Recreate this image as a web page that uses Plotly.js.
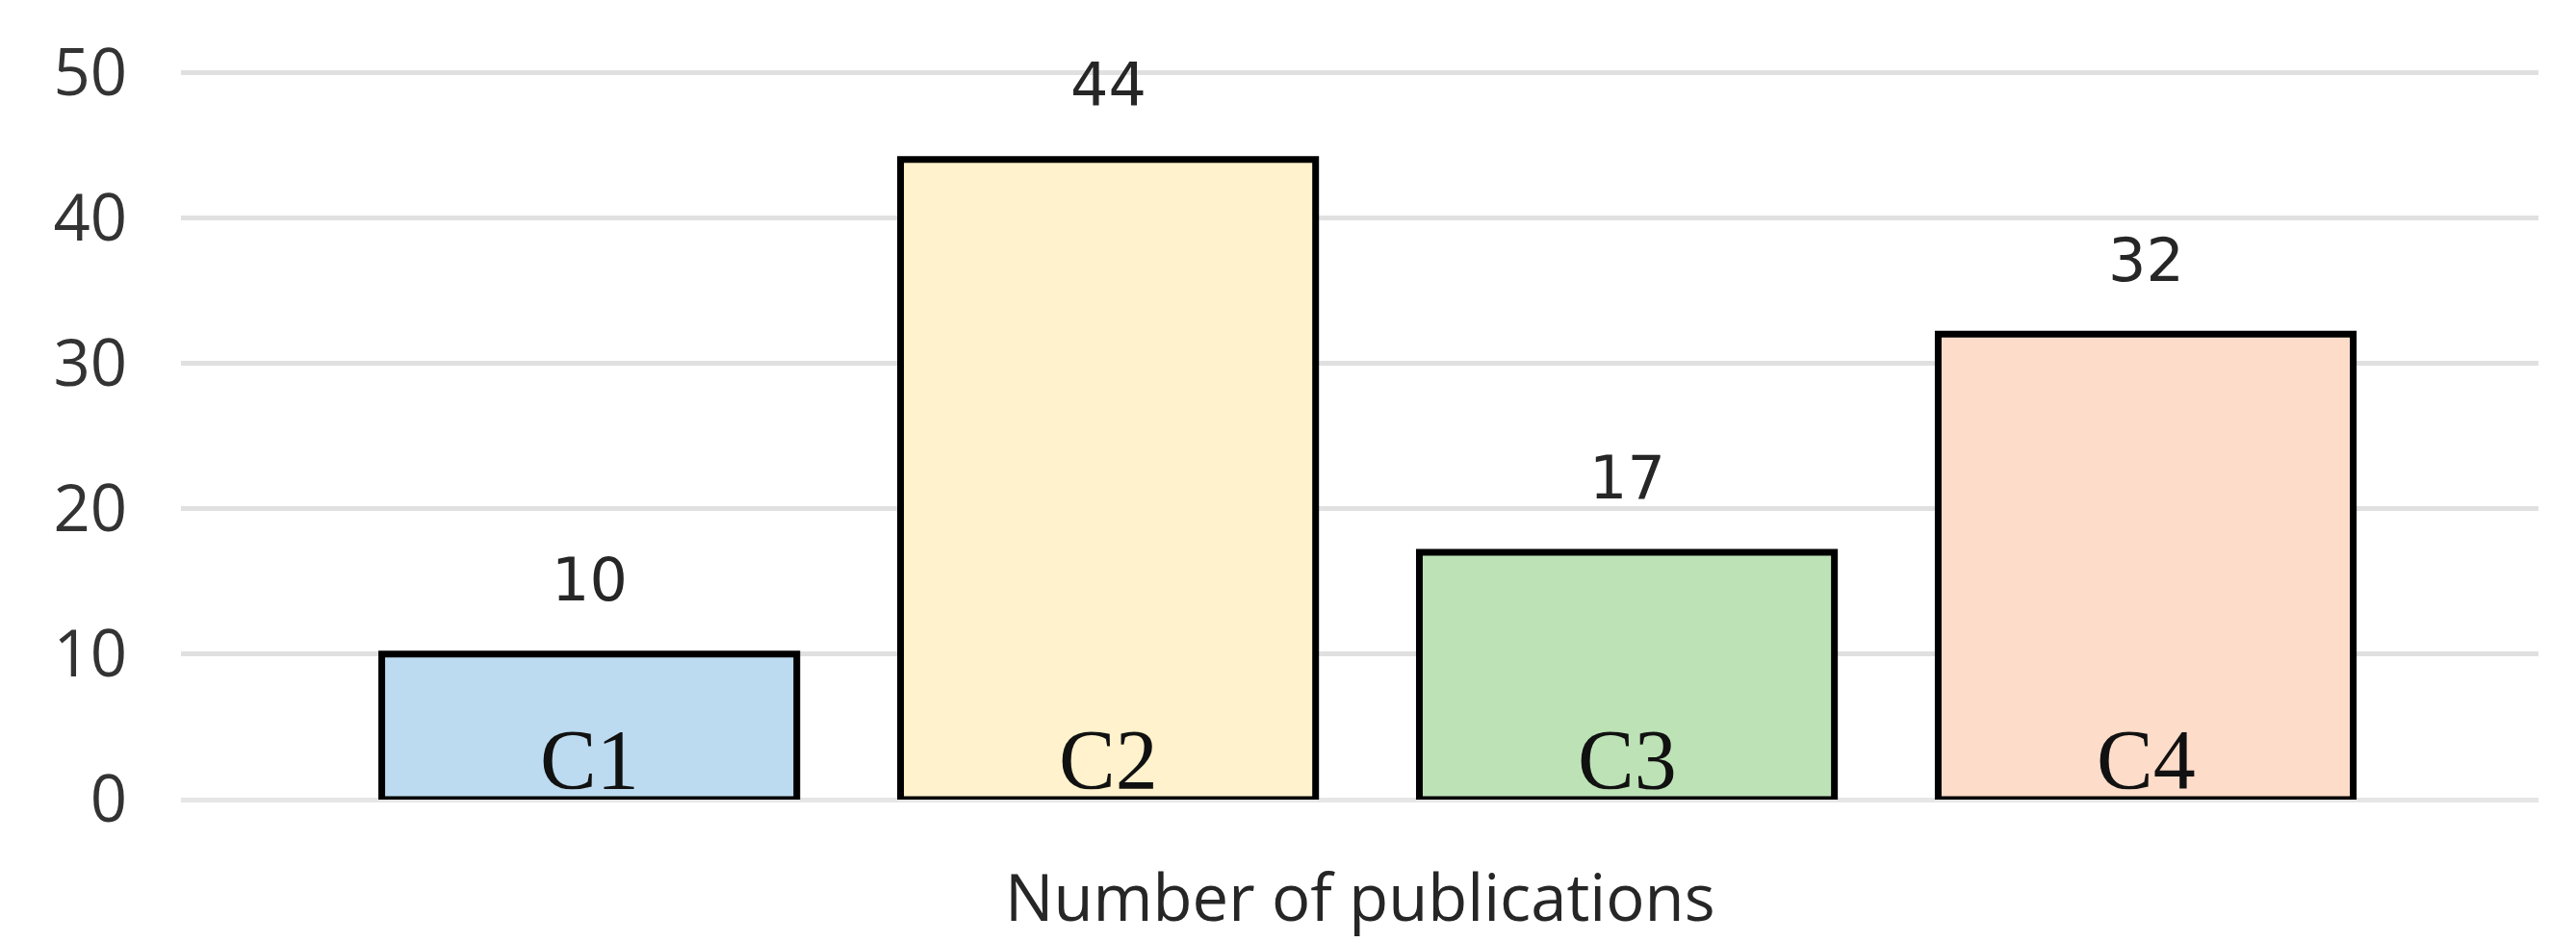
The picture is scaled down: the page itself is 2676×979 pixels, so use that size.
<!DOCTYPE html>
<html>
<head>
<meta charset="utf-8">
<script src="https://cdn.plot.ly/plotly-3.0.1.min.js"></script>
<style>
  html, body { margin: 0; padding: 0; background: #ffffff; }
  #chart { width: 2676px; height: 979px; }
</style>
</head>
<body>
<div id="chart"></div>
<script>
// Datos del gráfico
const categories = ['C1', 'C2', 'C3', 'C4'];
const publications = [10, 44, 17, 32];
const barColors = ['#bcdbf0', '#fff2cc', '#bde2b6', '#fddcc9'];
const yTicks = [0, 10, 20, 30, 40, 50];
const xTitle = 'Number of publications';

const sansFont = 'Open Sans, Segoe UI, sans-serif';
const labelFont = 'DejaVu Sans, Verdana, sans-serif';
const serifFont = 'Liberation Serif, Times New Roman, serif';

const trace = {
    x: categories,
    y: publications,
    type: 'bar',
    marker: {
        color: barColors,
        line: { color: '#000000', width: 7 }
    },
    hoverinfo: 'x+y'
};

// Valores sobre las barras
const valueLabels = categories.map((c, i) => ({
    x: c, y: publications[i],
    xref: 'x', yref: 'y',
    text: String(publications[i]),
    showarrow: false,
    yanchor: 'middle',
    yshift: 77,
    font: { family: labelFont, size: 62, color: '#262626' }
}));

// Nombre de la categoría dentro de cada barra
const catLabels = categories.map(c => ({
    x: c, y: 0,
    xref: 'x', yref: 'y',
    text: c,
    showarrow: false,
    yanchor: 'middle',
    yshift: 42,
    font: { family: serifFont, size: 88, color: '#111111' }
}));

const layout = {
    width: 2676,
    height: 979,
    paper_bgcolor: '#ffffff',
    plot_bgcolor: '#ffffff',
    margin: { t: 69, r: 39, b: 148, l: 188 },
    bargap: 0.2,
    showlegend: false,
    xaxis: {
        type: 'category',
        range: [-0.787, 3.757],
        showticklabels: false,
        showgrid: false,
        zeroline: false,
        showline: false,
        ticks: ''
    },
    yaxis: {
        range: [0, 50.4],
        tickvals: yTicks,
        showgrid: true,
        gridcolor: '#e0e0e0',
        gridwidth: 5,
        zeroline: true,
        zerolinecolor: '#e6e6e6',
        zerolinewidth: 5,
        showline: false,
        ticks: '',
        ticklabelstandoff: 55,
        tickfont: { family: sansFont, size: 67, color: '#333333' }
    },
    annotations: [
        ...valueLabels,
        ...catLabels,
        {
            x: 0.5, y: -0.131,
            xref: 'paper', yref: 'paper',
            text: xTitle,
            showarrow: false,
            yanchor: 'middle',
            font: { family: sansFont, size: 67, color: '#262626' }
        }
    ]
};

Plotly.newPlot('chart', [trace], layout, { displayModeBar: false, responsive: false });
</script>
</body>
</html>
